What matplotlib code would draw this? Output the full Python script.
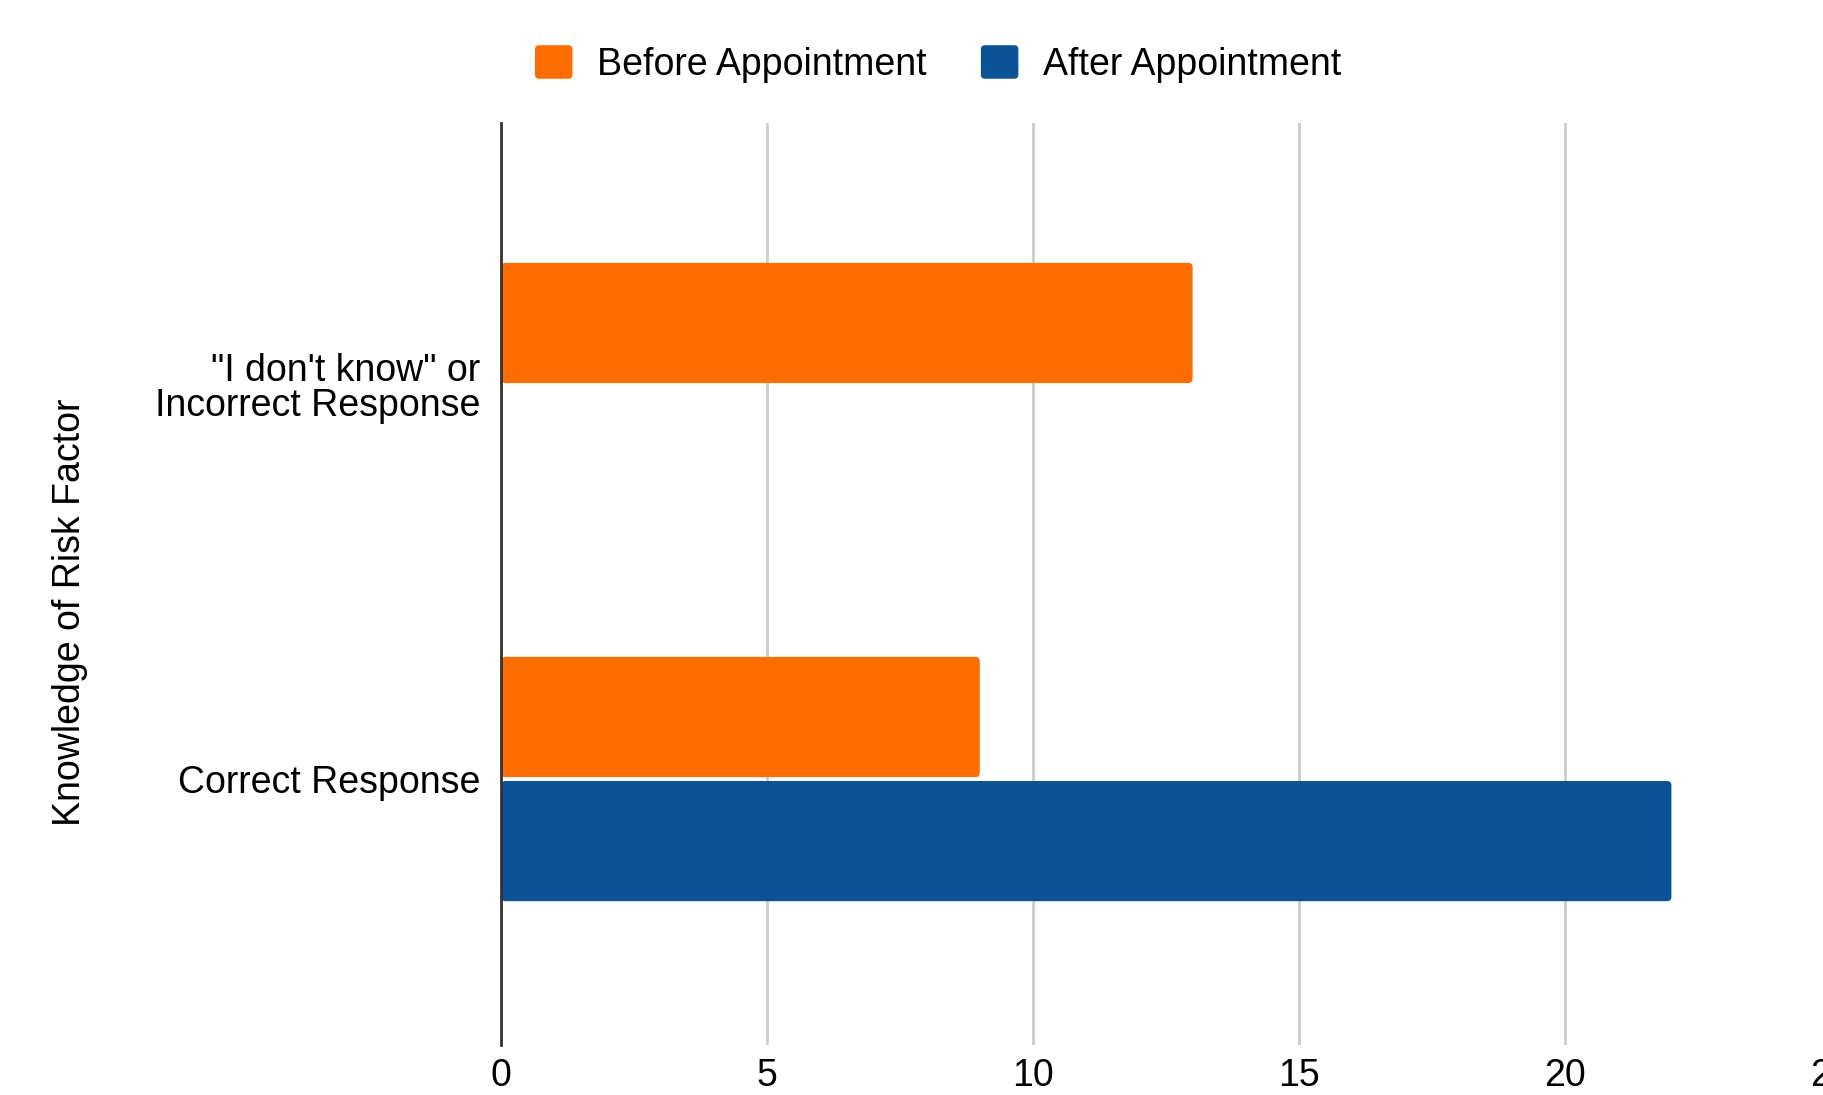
import matplotlib
matplotlib.use("Agg")
import matplotlib.pyplot as plt
from matplotlib.patches import Rectangle, FancyBboxPatch
from matplotlib.legend_handler import HandlerPatch
import numpy as np

plt.rcParams['font.family'] = ['Liberation Sans', 'DejaVu Sans']

categories = ['Correct Response', '"I don\'t know" or\nIncorrect Response']
before_values = [9, 13]
after_values = [22, 0]
series_names = ['Before Appointment', 'After Appointment']
x_ticks = [0, 5, 10, 15, 20, 25]
y_label = 'Knowledge of Risk Factor'

orange = '#ff6d01'
blue = '#0b5394'

fig = plt.figure(figsize=(18.23, 10.95), dpi=100)
ax = fig.add_axes([501 / 1823, 1 - 1045 / 1095, 1330 / 1823, (1045 - 123) / 1095])

y = np.arange(len(categories))
h = 0.305
off = 0.1575
bars_b = ax.barh(y + off, before_values, height=h, color=orange, zorder=3)
bars_a = ax.barh(y - off, after_values, height=h, color=blue, zorder=3)

ax.set_xlim(0, 25)
ax.set_ylim(-0.675, 1.665)

# replace rectangular bars with slightly rounded ones
for container in (bars_b, bars_a):
    for p in container.patches:
        if p.get_width() <= 0:
            p.set_visible(False)
            continue
        fb = FancyBboxPatch((p.get_x(), p.get_y()), p.get_width(), p.get_height(),
                            boxstyle='round,pad=0,rounding_size=0.08',
                            mutation_aspect=0.135,
                            facecolor=p.get_facecolor(), edgecolor='none', zorder=3)
        ax.add_patch(fb)
        p.set_visible(False)

ax.set_xticks(x_ticks)
ax.set_xticklabels([str(t) for t in x_ticks], fontsize=27)
ax.set_yticks(y)
ax.set_yticklabels(categories, fontsize=27, linespacing=0.95)
ax.tick_params(axis='both', length=0)
ax.tick_params(axis='x', pad=9)
ax.tick_params(axis='y', pad=15)
ax.grid(axis='x', color='#cccccc', linewidth=2, zorder=0)
for s in ['top', 'right', 'bottom']:
    ax.spines[s].set_visible(False)
ax.spines['left'].set_color('#333333')
ax.spines['left'].set_linewidth(2)
ax.spines['left'].set_zorder(4)

fig.text(70 / 1823, 1 - 612 / 1095, y_label, rotation=90, fontsize=27,
         ha='center', va='center')


class RoundHandler(HandlerPatch):
    def create_artists(self, legend, orig_handle, xdescent, ydescent,
                       width, height, fontsize, trans):
        p = FancyBboxPatch((-xdescent, -ydescent), width, height,
                           boxstyle='round,pad=0,rounding_size=3',
                           facecolor=orig_handle.get_facecolor(), edgecolor='none',
                           transform=trans)
        return [p]


handles = [Rectangle((0, 0), 1, 1, color=orange), Rectangle((0, 0), 1, 1, color=blue)]
fig.legend(handles, series_names, loc='center', bbox_to_anchor=(938 / 1823, 1 - 64 / 1095),
           ncol=2, frameon=False, fontsize=27, handlelength=1.0, handleheight=1.0,
           handletextpad=0.65, columnspacing=1.45,
           handler_map={Rectangle: RoundHandler()})

fig.savefig('out.png', dpi=100, facecolor='white')
